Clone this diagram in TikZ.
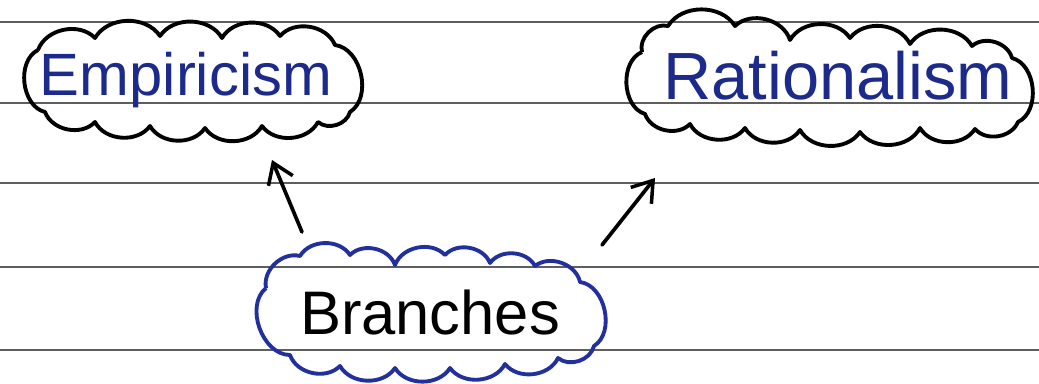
\documentclass[tikz,border=0pt]{standalone}
\usepackage{fontspec}
\setmainfont{Liberation Sans}
\usetikzlibrary{arrows.meta}
\definecolor{ink}{HTML}{1C2A8C}
\definecolor{cloudblue}{HTML}{22309E}
\definecolor{rulegrey}{HTML}{5E5E5E}
\begin{document}
\begin{tikzpicture}[x=0.02cm,y=-0.02cm,
  ruleline/.style={draw=rulegrey,line width=1pt},
  bubble/.style={line width=2.2pt,line join=round},
  bump/.style={bend left=58},
  side/.style={bend left=70},
  pointer/.style={-{Straight Barb[length=11pt,width=15pt,line width=2pt]},line width=2.1pt,line cap=round}]
\useasboundingbox (0,0) rectangle (1039,383);
\fill[white] (0,0) rectangle (1039,383);
\foreach \yy in {22,103,183,267,350} \draw[ruleline] (0,\yy) -- (1039,\yy);
% Empiricism cloud
\draw[bubble,draw=black] (38,50) to[bump] (95,38) to[bump] (160,36) to[bump] (222,38)
  to[bump] (280,36) to[bump] (335,45) to[side] (350,112) to[bump] (318,122)
  to[bump] (262,126) to[bump] (205,128) to[bump] (150,126) to[bump] (95,122)
  to[bump] (45,112) to[side] (38,50);
% Rationalism cloud
\draw[bubble,draw=black] (642,52) to[bend left=60] (668,26) to[bump] (735,26) to[bump] (790,40)
  to[bump] (850,38) to[bump] (910,44) to[bump] (972,46) to[bump] (1012,58)
  to[side] (1018,122) to[bump] (975,129) to[bump] (920,128) to[bump] (860,132)
  to[bump] (800,130) to[bump] (745,128) to[bump] (690,124) to[bump] (645,114)
  to[side] (642,52);
% Branches cloud
\draw[bubble,draw=cloudblue] (266,288) to[bump] (300,256) to[bump] (350,255) to[bump] (395,265)
  to[bump] (445,255) to[bump] (490,263) to[bump] (535,266) to[bump] (580,282)
  to[side] (594,346) to[bump] (558,358) to[bump] (505,364) to[bump] (450,368)
  to[bump] (395,368) to[bump] (340,366) to[bump] (290,355) to[side] (266,288);
\node[text=ink,font=\fontsize{34}{36}\selectfont] (emp) at (186,80) {Empiricism};
\node[text=ink,font=\fontsize{38}{40}\selectfont] (rat) at (838,76) {Rationalism};
\node[text=black,font=\fontsize{35}{38}\selectfont] (br) at (430,313) {Branches};
\coordinate (a1s) at (302,232);
\coordinate (a1e) at (272,160);
\coordinate (a2s) at (602,245);
\coordinate (a2e) at (655,178);
\draw[pointer] (a1s) -- (a1e);
\draw[pointer] (a2s) -- (a2e);
\end{tikzpicture}
\end{document}
